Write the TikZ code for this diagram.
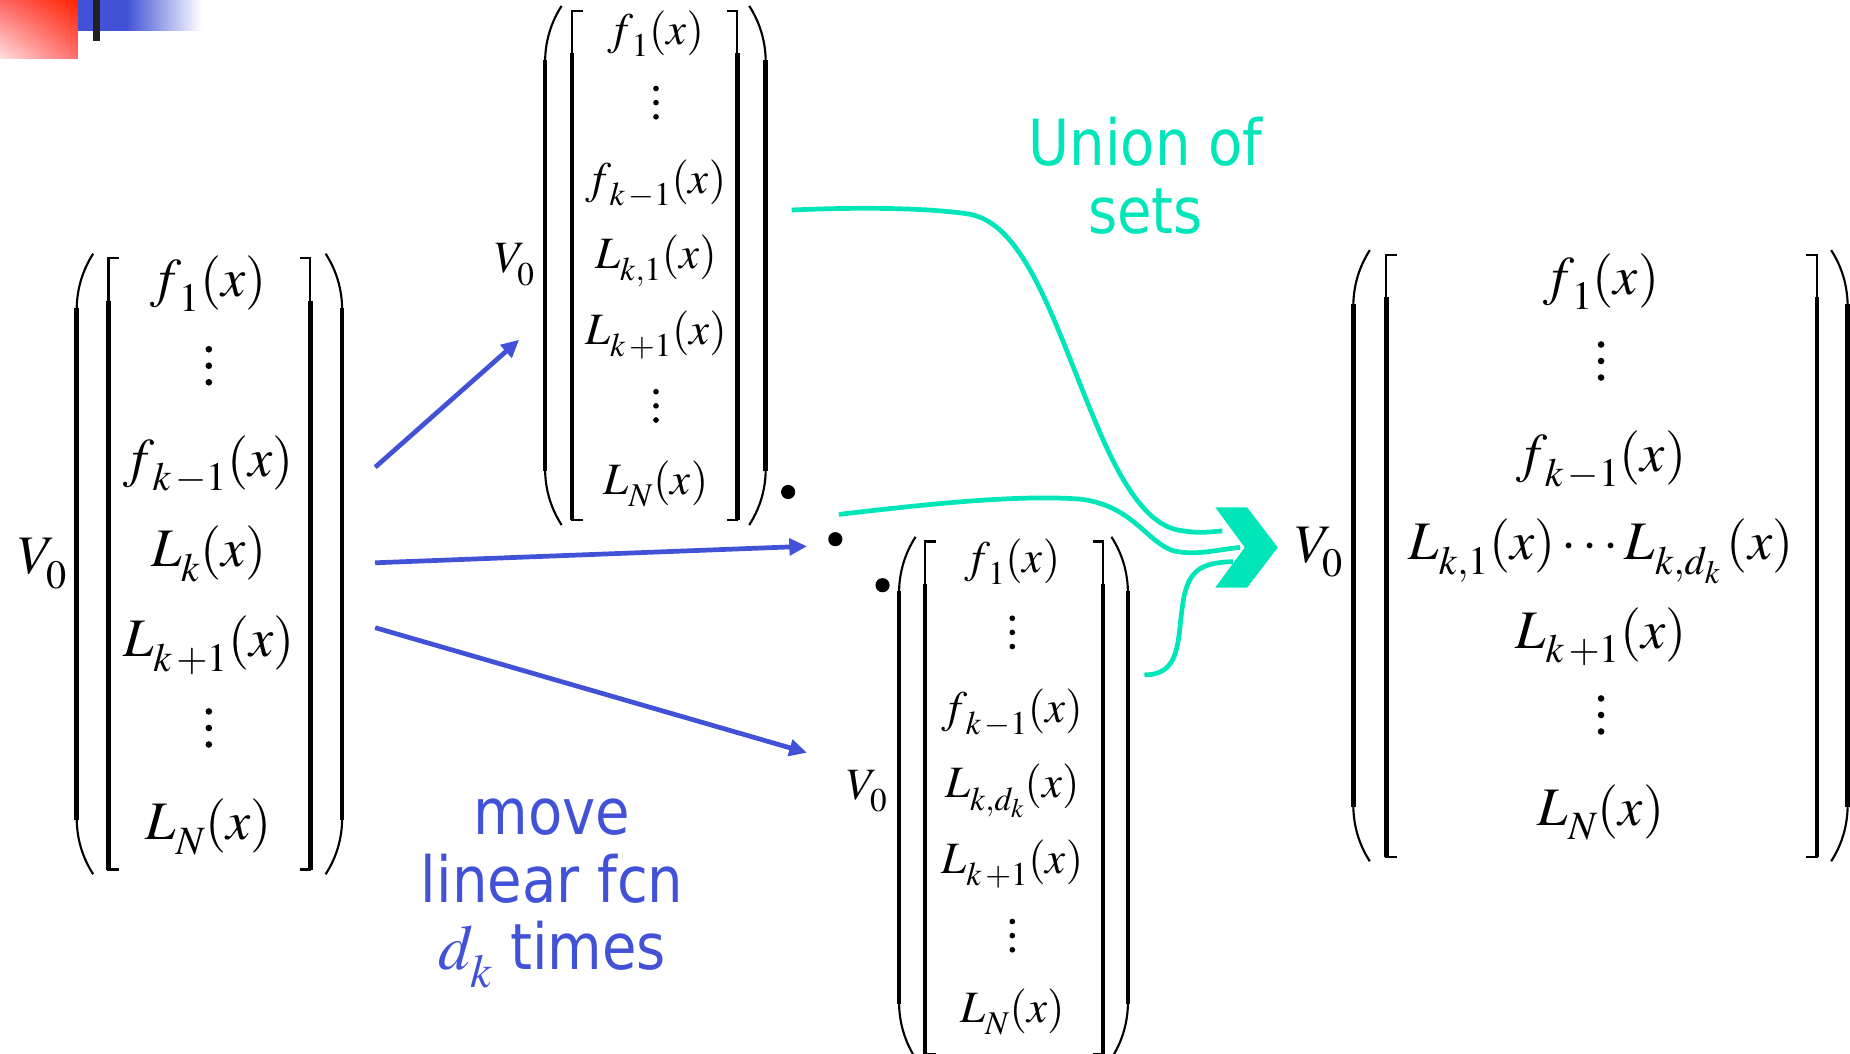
\documentclass[tikz,border=0pt]{standalone}
\usepackage[no-math]{fontspec}
\usepackage{mathptmx}
\usetikzlibrary{arrows.meta,shadings}
\newfontfamily\tah[FakeStretch=0.88]{DejaVu Sans}
\definecolor{myblue}{RGB}{66,82,214}
\definecolor{mygreen}{RGB}{0,230,184}
\definecolor{myred}{RGB}{255,36,0}
\definecolor{redul}{RGB}{255,100,100}
\definecolor{redll}{RGB}{255,225,225}
\definecolor{redlr}{RGB}{255,110,110}
\everymath{\fontdimen16\textfont2=0.27em \fontdimen17\textfont2=0.27em}
% #1 left paren x, #2 left bracket x, #3 right bracket x, #4 right paren x, #5 top y, #6 bottom y
\newcommand\mfr[6]{%
  \draw[thinl] (#1+14,#5) .. controls (#1+5,#5+14) and (#1,#5+30) .. (#1,#5+48);
  \draw[thickl] (#1,#5+46) -- (#1,#6-46);
  \draw[thinl] (#1,#6-48) .. controls (#1,#6-30) and (#1+5,#6-14) .. (#1+14,#6);
  \draw[thinl] (#4-14,#5) .. controls (#4-5,#5+14) and (#4,#5+30) .. (#4,#5+48);
  \draw[thickl] (#4,#5+46) -- (#4,#6-46);
  \draw[thinl] (#4,#6-48) .. controls (#4,#6-30) and (#4-5,#6-14) .. (#4-14,#6);
  \draw[thinl] (#2+9,#5+4) -- (#2,#5+4) -- (#2,#5+42);
  \draw[thickl] (#2,#5+40) -- (#2,#6-4);
  \draw[thinl] (#2-0.9,#6-4) -- (#2+9,#6-4);
  \draw[thinl] (#3-9,#5+4) -- (#3,#5+4) -- (#3,#5+42);
  \draw[thickl] (#3,#5+40) -- (#3,#6-4);
  \draw[thinl] (#3+0.9,#6-4) -- (#3-9,#6-4);
}
\newcommand\vdts[4]{% x, y middle, spacing, radius
  \fill (#1,#2-#3) circle (#4pt);
  \fill (#1,#2) circle (#4pt);
  \fill (#1,#2+#3) circle (#4pt);
}
\newcommand\fs[1]{f_{\mkern2mu #1}}
\begin{document}
\begin{tikzpicture}[x=1pt,y=-1pt,
  thinl/.style={line width=1.8pt},
  thickl/.style={line width=3.8pt},
  bigent/.style={inner sep=0pt, text height=33pt, text depth=10pt, font=\fontsize{46}{50}\selectfont},
  smallent/.style={inner sep=0pt, text height=27pt, text depth=8.4pt, font=\fontsize{38}{42}\selectfont},
  blarrow/.style={draw=myblue, line width=4pt, -{Triangle[length=15pt,width=14pt]}},
  grline/.style={draw=mygreen, line width=4pt},
  label/.style={inner sep=0pt, anchor=base, align=center, font=\tah\fontsize{54}{57.5}\selectfont}]
\useasboundingbox (0,0) rectangle (1568,893);
\clip (0,0) rectangle (1568,893);
% corner decoration
\shade[upper left=redul, upper right=myred, lower left=redll, lower right=redlr]
  (0,0) rectangle (66,50);
\fill[myblue] (66,0) rectangle (107,26);
\shade[left color=myblue, right color=white] (107,0) rectangle (171,26);
\fill[black!87] (79,0) rectangle (85,35);

% ---- left matrix
\mfr{65}{92}{263}{290}{215}{741}
\node[bigent] (v1) at (36,475) {$V_0$};
\node[bigent] (a1) at (177,240) {$\fs{1}(x)$};
\vdts{177}{310}{14}{2.8}
\node[bigent] (a2) at (177,392) {$\fs{k\mkern2mu-1}(x)$};
\node[bigent] (a3) at (177,469) {$L_k(x)$};
\node[bigent] (a4) at (177,545) {$L_{k\mkern2mu+1}(x)$};
\vdts{177}{617}{14}{2.8}
\node[bigent] (a5) at (177,700) {$L_N(x)$};

% ---- top middle matrix
\mfr{462}{485}{625}{649}{5}{445}
\node[smallent] (v2) at (436,222) {$V_0$};
\node[smallent] (b1) at (556,28) {$\fs{1}(x)$};
\vdts{556}{87}{12}{2.4}
\node[smallent] (b2) at (556,155) {$\fs{k\mkern2mu-1}(x)$};
\node[smallent] (b3) at (556,218) {$L_{k,1}(x)$};
\node[smallent] (b4) at (556,283) {$L_{k\mkern2mu+1}(x)$};
\vdts{556}{344}{12}{2.4}
\node[smallent] (b5) at (556,410) {$L_N(x)$};

% ---- bottom middle matrix
\mfr{762}{784}{935}{956}{455}{897}
\node[smallent] (v3) at (735,668) {$V_0$};
\node[smallent] (c1) at (858,476) {$\fs{1}(x)$};
\vdts{858}{536}{12}{2.4}
\node[smallent] (c2) at (858,603) {$\fs{k\mkern2mu-1}(x)$};
\node[smallent] (c3) at (858,667) {$L_{k,d_k}(x)$};
\node[smallent] (c4) at (858,731) {$L_{k\mkern2mu+1}(x)$};
\vdts{858}{793}{12}{2.4}
\node[smallent] (c5) at (858,857) {$L_N(x)$};

% ---- right matrix
\mfr{1147}{1175}{1540}{1566}{212}{730}
\node[bigent] (v4) at (1118,465) {$V_0$};
\node[bigent] (d1) at (1357,238) {$\fs{1}(x)$};
\vdts{1357}{306}{14}{2.8}
\node[bigent] (d2) at (1357,388) {$\fs{k\mkern2mu-1}(x)$};
\node[bigent] (d3) at (1357,463) {$L_{k,1}(x)\cdots L_{k,d_k}\,(x)$};
\node[bigent] (d4) at (1357,538) {$L_{k\mkern2mu+1}(x)$};
\vdts{1357}{606}{14}{2.8}
\node[bigent] (d5) at (1357,688) {$L_N(x)$};

% ---- dots between the copies
\fill (668,417) circle (6pt);
\fill (708,457) circle (6pt);
\fill (748,496) circle (6pt);

% ---- blue arrows
\coordinate (s1) at (318,396);
\coordinate (s2) at (318,477);
\coordinate (s3) at (318,532);
\coordinate (e1) at (440,288);
\coordinate (e2) at (684,463);
\coordinate (e3) at (684,638);
\draw[blarrow] (s1) -- (e1);
\draw[blarrow] (s2) -- (e2);
\draw[blarrow] (s3) -- (e3);

% ---- green curves
\coordinate (g1) at (671,178);
\coordinate (g2) at (711,436);
\coordinate (g3) at (970,572);
\coordinate (h1) at (1036,450);
\coordinate (h2) at (1051,464);
\coordinate (h3) at (1045,476);
\draw[grline] (g1) .. controls (740,175) and (790,177) .. (818,181)
  .. controls (870,186) and (895,280) .. (932,366)
  .. controls (962,436) and (985,448) .. (1003,450)
  .. controls (1016,452) and (1024,451) .. (h1);
\draw[grline] (g2) .. controls (780,428) and (860,419) .. (915,423)
  .. controls (960,428) and (972,460) .. (995,467)
  .. controls (1015,471) and (1030,466) .. (h2);
\draw[grline] (g3) .. controls (1000,572) and (998,545) .. (1002,515)
  .. controls (1006,484) and (1016,477) .. (h3);
\fill[mygreen] (1030,430) -- (1057,430) -- (1083,464) -- (1057,498) -- (1030,498) -- (1055,464) -- cycle;

% ---- labels
\node[label, text=mygreen] (union) at (971,198) {Union of\\sets};
\node[label, text=myblue] (move) at (468,822) {move\\linear fcn\\$d_k$ times};
\end{tikzpicture}
\end{document}
